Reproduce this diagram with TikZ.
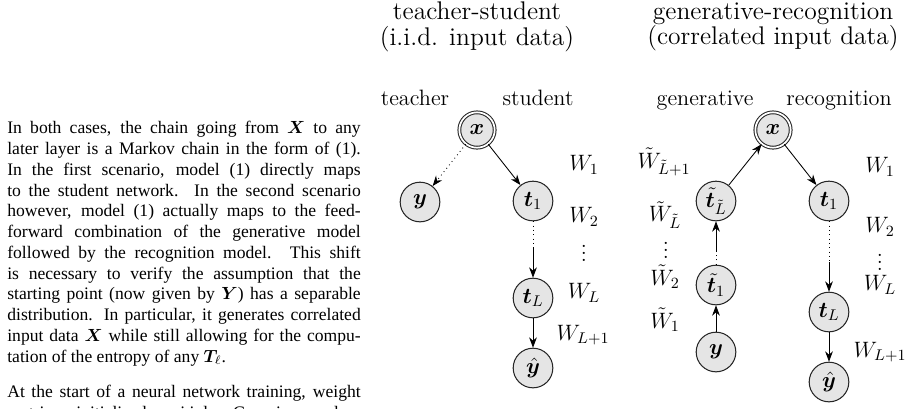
\documentclass[tikz,border=0pt]{standalone}
\usepackage{fix-cm}
\usepackage{fontspec}
\usepackage{amsmath,bm}
\usetikzlibrary{arrows.meta}
\newfontfamily\timesfont{Liberation Serif}

\tikzset{
  var/.style={draw=black!85, circle, fill=black!10, line width=0.6pt,
    minimum size=23pt, inner sep=0pt, font=\fontsize{12.9}{15}\selectfont},
  obs/.style={var, double, double distance=1pt, minimum size=20.5pt},
  lbl/.style={inner sep=0pt, font=\fontsize{12.9}{15}\selectfont},
  ttl/.style={align=center, inner sep=0pt, font=\fontsize{14.8}{14.8}\selectfont},
  arco/.style={-{Stealth[length=6pt,width=4.5pt]}, line width=0.5pt},
  punt/.style={dotted, line width=0.5pt},
}

\begin{document}
\begin{tikzpicture}[x=0.58pt, y=-0.58pt]
  \useasboundingbox (0,0) rectangle (913,408);

  % Testo
  \node[anchor=north west, inner sep=0pt, text width=205pt, align=justify,
    font=\timesfont\fontsize{10.2}{12.05}\selectfont] (testo) at (7,121) {%
    In both cases, the chain going from $\bm{X}$ to any\linebreak
    later layer is a Markov chain in the form of (1).\linebreak
    In the first scenario, model (1) directly maps\linebreak
    to the student network. In the second scenario\linebreak
    however, model (1) actually maps to the feed-\linebreak
    forward combination of the generative model\linebreak
    followed by the recognition model. This shift\linebreak
    is necessary to verify the assumption that the\linebreak
    starting point (now given by $\bm{Y}$) has a separable\linebreak
    distribution. In particular, it generates correlated\linebreak
    input data $\bm{X}$ while still allowing for the compu-\linebreak
    tation of the entropy of any $\bm{T}_\ell$.\par\vspace{8.5pt}
    At the start of a neural network training, weight\linebreak
    matrices initialized as i.i.d. Gaussian random\linebreak};

  % Titoli
  \node[ttl] (ts) at (477,27) {teacher-student\\(i.i.d. input data)};
  \node[ttl] (gr) at (773,27) {generative-recognition\\(correlated input data)};
  \node[lbl, anchor=base] (teacher) at (415,105) {teacher};
  \node[lbl, anchor=base] (student) at (538,105) {student};
  \node[lbl, anchor=base] (generative) at (705,105) {generative};
  \node[lbl, anchor=base] (recognition) at (839,105) {recognition};

  % Nodi (teacher-student)
  \node[obs] (Lx) at (477,130) {$\bm{x}$};
  \node[var] (Ly) at (420,202) {$\bm{y}$};
  \node[var] (Lt1) at (533,201) {$\bm{t}_1$};
  \node[var] (LtL) at (533,298) {$\bm{t}_L$};
  \node[var] (Lyh) at (533,368) {$\hat{\bm{y}}$};
  \coordinate (Lm) at (533,248);

  % Nodi (generative-recognition)
  \node[obs] (Rx) at (773,130) {$\bm{x}$};
  \node[var] (Gt2) at (716,201) {$\tilde{\bm{t}}_{\tilde{L}}$};
  \node[var] (Gt1) at (716,285) {$\tilde{\bm{t}}_1$};
  \node[var] (Gy) at (716,352) {$\bm{y}$};
  \node[var] (Rt1) at (829,201) {$\bm{t}_1$};
  \node[var] (RtL) at (829,312) {$\bm{t}_L$};
  \node[var] (Ryh) at (829,382) {$\hat{\bm{y}}$};
  \coordinate (Gm) at (716,252);
  \coordinate (Rm) at (829,262);

  % Archi
  \draw[arco, dotted] (Lx) -- (Ly);
  \draw[arco] (Lx) -- (Lt1);
  \draw[punt] (Lt1) -- (Lm);
  \draw[arco] (Lm) -- (LtL);
  \draw[arco] (LtL) -- (Lyh);

  \draw[arco] (Gy) -- (Gt1);
  \draw[punt] (Gt1) -- (Gm);
  \draw[arco] (Gm) -- (Gt2);
  \draw[arco] (Gt2) -- (Rx);
  \draw[arco] (Rx) -- (Rt1);
  \draw[punt] (Rt1) -- (Rm);
  \draw[arco] (Rm) -- (RtL);
  \draw[arco] (RtL) -- (Ryh);

  % Pesi
  \node[lbl] (LW1) at (584,165) {$W_1$};
  \node[lbl] (LW2) at (584,217) {$W_2$};
  \node[lbl] (Ldots) at (584,248) {$\vdots$};
  \node[lbl] (LWL) at (584,293) {$W_L$};
  \node[lbl] (LWL1) at (583,335) {$W_{L+1}$};

  \node[lbl] (GW3) at (664,162) {$\tilde{W}_{\tilde{L}+1}$};
  \node[lbl] (GW2) at (665,215) {$\tilde{W}_{\tilde{L}}$};
  \node[lbl] (Gdots) at (666,245) {$\vdots$};
  \node[lbl] (GWb) at (665,277) {$\tilde{W}_2$};
  \node[lbl] (GWa) at (665,320) {$\tilde{W}_1$};

  \node[lbl] (RW1) at (880,167) {$W_1$};
  \node[lbl] (RW2) at (880,227) {$W_2$};
  \node[lbl] (Rdots) at (880,257) {$\vdots$};
  \node[lbl] (RWL) at (880,285) {$W_L$};
  \node[lbl] (RWL1) at (880,352) {$W_{L+1}$};
\end{tikzpicture}
\end{document}
